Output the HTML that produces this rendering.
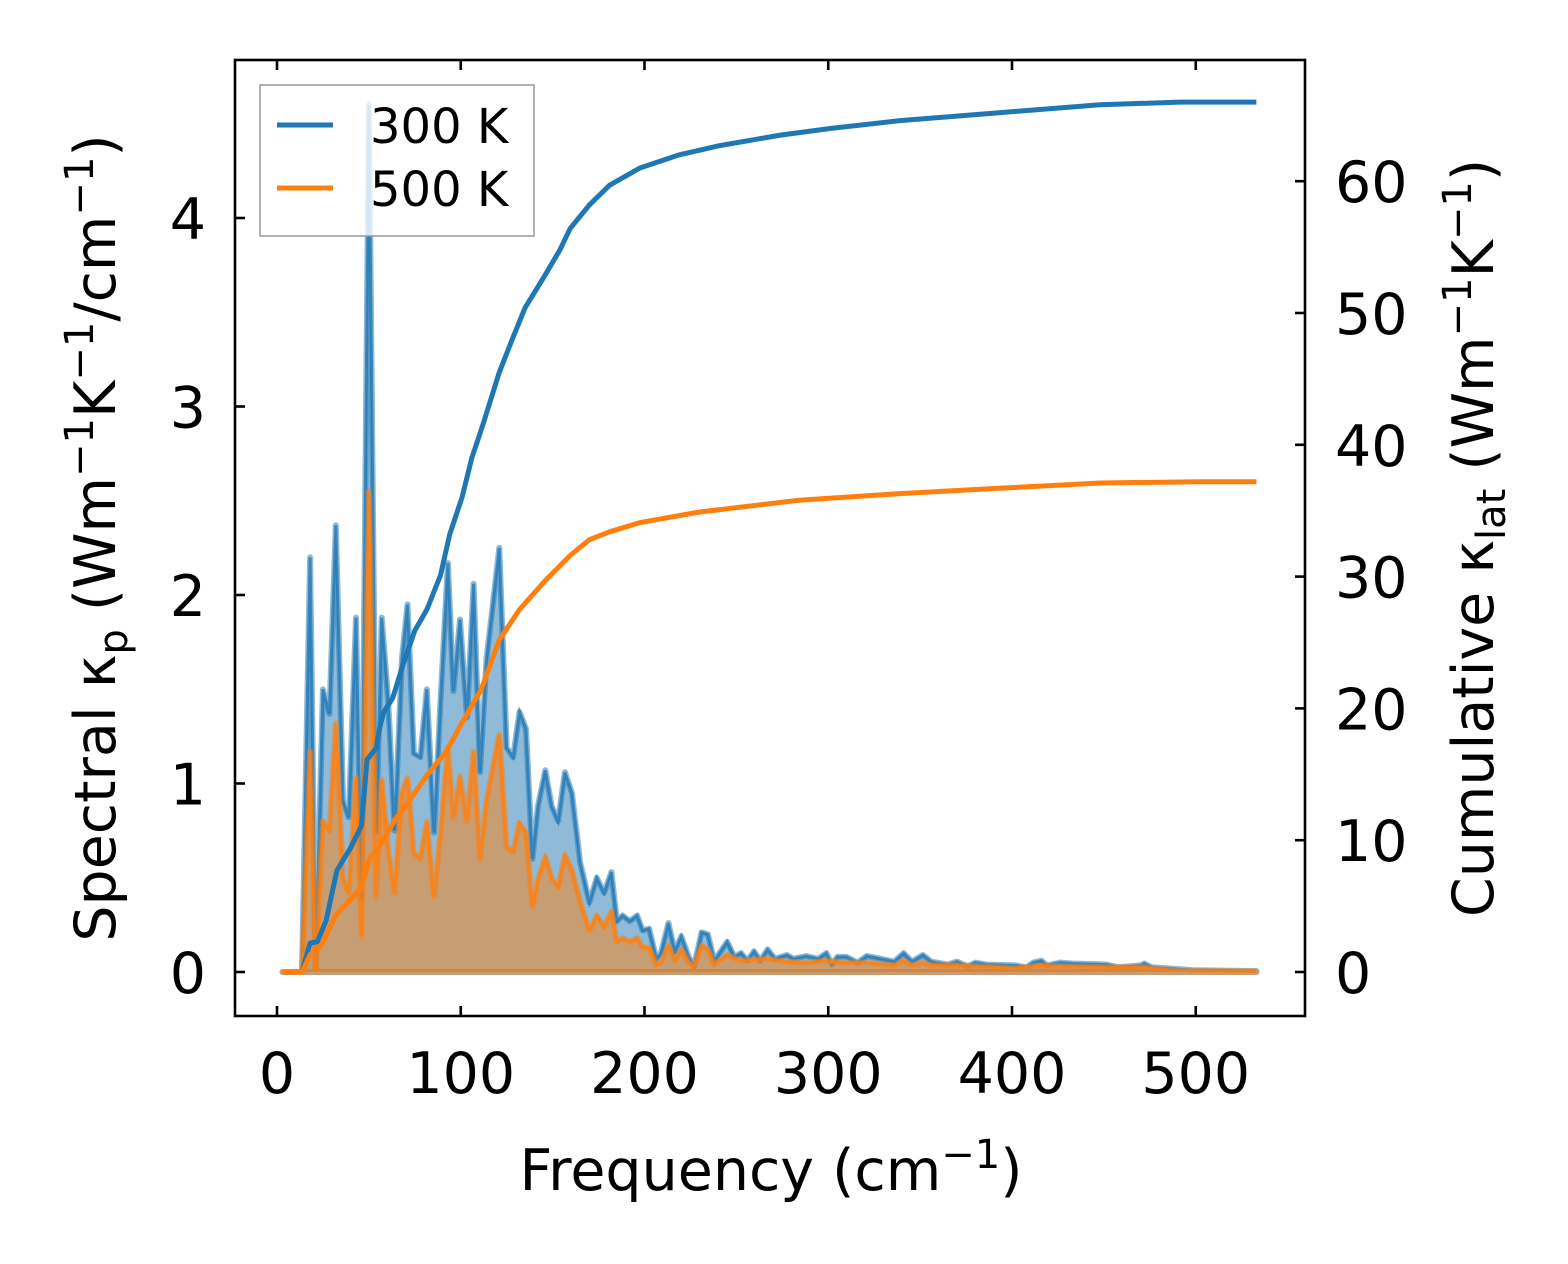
<!DOCTYPE html>
<html><head><meta charset="utf-8"><style>
html,body{margin:0;padding:0;background:#fff;}
svg{display:block;font-family:"DejaVu Sans","Liberation Sans",sans-serif;}
</style></head><body>
<svg id="chart" width="1568" height="1264" viewBox="0 0 1568 1264" xmlns="http://www.w3.org/2000/svg">
<rect x="0" y="0" width="1568" height="1264" fill="#fff"/>
<g id="plot"></g>
<rect x="235" y="60" width="1070" height="956" fill="none" stroke="#000" stroke-width="2.6"/>
<g id="ticks"></g>
<text x="771" y="1190" font-size="57" text-anchor="middle">Frequency (cm<tspan dy="-22" font-size="40">−1</tspan><tspan dy="22">)</tspan></text>
<text transform="translate(115,538) rotate(-90)" font-size="57" text-anchor="middle">Spectral κ<tspan dy="12" font-size="40">p</tspan><tspan dy="-12"> (Wm</tspan><tspan dy="-22" font-size="40">−1</tspan><tspan dy="22">K</tspan><tspan dy="-22" font-size="40">−1</tspan><tspan dy="22">/cm</tspan><tspan dy="-22" font-size="40">−1</tspan><tspan dy="22">)</tspan></text>
<text transform="translate(1493,538) rotate(-90)" font-size="57" text-anchor="middle">Cumulative κ<tspan dy="12" font-size="40">lat</tspan><tspan dy="-12"> (Wm</tspan><tspan dy="-22" font-size="40">−1</tspan><tspan dy="22">K</tspan><tspan dy="-22" font-size="40">−1</tspan><tspan dy="22">)</tspan></text>
<g>
<rect x="260" y="85" width="274" height="151" fill="#fff" fill-opacity="0.8" stroke="#999" stroke-width="1.5"/>
<line x1="277" y1="125" x2="333" y2="125" stroke="#1f77b4" stroke-width="5"/>
<text x="370" y="143" font-size="48">300 K</text>
<line x1="277" y1="188" x2="333" y2="188" stroke="#ff7f0e" stroke-width="5"/>
<text x="370" y="206" font-size="48">500 K</text>
</g>
</svg>
<script>
const freqBlue = [3,13.6,18,21,25,28.5,32,36,39,43,46,50,54,57,60.5,64,68,71,74.5,78,81.5,85.5,89,93,96,99.6,103.4,107,110.5,114,121,125,128.5,132,135.5,139,142,146,149.5,153,156.7,160.5,165,170,174,178,182,185,188,192,196,199,202.5,206.5,209,213,216.5,220,224,227,231,234.5,238,245,249,252.5,256,259.6,263,267,271,277.5,281,288,294.5,299,302,305,310,316,321,336,341,345.5,351.5,356,365,370,376,380,386,402,408,411.5,416,419,426,433,451.5,458,470,472,476,484,498,533];
const kpBlue = [0,0,2.2,0,1.5,1.37,2.37,0.91,0.82,1.88,0.38,4.6,0.74,1.88,1.44,0.75,1.66,1.95,1.16,1.14,1.5,0.74,1.44,2.17,1.49,1.87,1.35,2.06,1.06,1.66,2.25,1.19,1.14,1.38,1.29,0.6,0.88,1.07,0.88,0.8,1.06,0.95,0.58,0.37,0.5,0.42,0.53,0.27,0.3,0.27,0.3,0.22,0.23,0.07,0.1,0.26,0.11,0.19,0.08,0.03,0.21,0.2,0.06,0.16,0.08,0.1,0.06,0.11,0.06,0.12,0.07,0.09,0.07,0.085,0.07,0.1,0.04,0.08,0.08,0.05,0.085,0.055,0.1,0.055,0.09,0.055,0.04,0.055,0.03,0.05,0.04,0.035,0.025,0.05,0.06,0.035,0.05,0.045,0.04,0.025,0.035,0.045,0.025,0.02,0.01,0.005];
const freqOrange = [3,13.6,18,21,25,28.5,32,36,39,43,46,50,54,57,60.5,64,68,71,74.5,78,81.5,85.5,89,93,96,99.6,103.4,107,110.5,114,121,125,128.5,132,135.5,139,142,146,149.5,153,156.7,160.5,165,170,174,178,182,185,188,192,196,199,202.5,206.5,209,213,216.5,220,224,227,231,234.5,238,245,252.5,259.6,267,277.5,288,299,310,321,336,341,345.5,351.5,356,370,380,402,411.5,416,426,451.5,472,484,498,533];
const kpOrange = [0,0,1.17,0,0.8,0.75,1.32,0.5,0.42,1.03,0.19,2.55,0.4,1.02,0.65,0.42,0.95,1.03,0.63,0.6,0.8,0.4,0.74,1.19,0.82,1.04,0.8,1.17,0.6,0.91,1.26,0.66,0.64,0.79,0.74,0.35,0.49,0.61,0.5,0.45,0.62,0.54,0.37,0.22,0.3,0.24,0.32,0.16,0.18,0.16,0.18,0.13,0.13,0.04,0.05,0.14,0.06,0.12,0.05,0.03,0.14,0.12,0.04,0.09,0.06,0.065,0.07,0.055,0.05,0.06,0.05,0.05,0.035,0.06,0.035,0.05,0.035,0.035,0.03,0.02,0.03,0.035,0.03,0.025,0.025,0.012,0.006,0.003];
const cumFreqBlue = [3,13.6,18,22,26.7,32.6,40,46,49,54,56,58,63,68.5,75,81.6,89,94,100.7,106,112,121,128,135,146,154,159.5,170,181,197.5,219,241,274,301,339,393,448,491,533];
const cumBlue = [0,0,2.2,2.3,3.9,7.7,9.4,11.1,16.1,17,18.6,19.7,20.8,23.3,25.9,27.5,30.1,33.2,36,39,41.5,45.5,48,50.4,52.9,54.8,56.4,58.2,59.7,61,62,62.7,63.5,64,64.6,65.2,65.8,66,66];
const cumFreqOrange = [3,13.6,18,24,32,40,46,50,56,64,72,82,92,101,111,121,132,146,159.5,170,181,197.5,230,284,339,393,448,502,533];
const cumOrange = [0,0,1.3,2,4.3,5.5,6.4,8.5,9.6,11.5,13,15,16.7,19,21.4,25.2,27.5,29.7,31.6,32.8,33.4,34.1,34.9,35.8,36.3,36.7,37.1,37.2,37.2];
const xTicks = [0,100,200,300,400,500];
const yLeftTicks = [0,1,2,3,4];
const yRightTicks = [0,10,20,30,40,50,60];

const NS = "http://www.w3.org/2000/svg";
const xS = f => 277 + f * 1.8375;
const yL = v => 972 - v * 188.5;
const yR = v => 972 - v * 13.18;
const plot = document.getElementById('plot');
const ticks = document.getElementById('ticks');
function mk(tag, attrs, parent) {
  const el = document.createElementNS(NS, tag);
  for (const k in attrs) el.setAttribute(k, attrs[k]);
  parent.appendChild(el);
  return el;
}
function linePts(fs, vs, ys) { return fs.map((f, i) => xS(f).toFixed(1) + ',' + ys(vs[i]).toFixed(1)).join(' '); }
function areaPts(fs, vs) {
  return xS(fs[0]).toFixed(1) + ',' + yL(0) + ' ' + linePts(fs, vs, yL) + ' ' + xS(fs[fs.length - 1]).toFixed(1) + ',' + yL(0);
}
const fb = mk('polygon', {points: areaPts(freqBlue, kpBlue), fill: '#1f77b4', 'fill-opacity': 0.5, stroke: '#1f77b4', 'stroke-opacity': 0.5, 'stroke-width': 6, 'stroke-linejoin': 'round'}, plot);


const lb = mk('polyline', {points: linePts(freqBlue, kpBlue, yL), fill: 'none', stroke: '#1f77b4', 'stroke-opacity': 0.75, 'stroke-width': 3}, plot);


const fo = mk('polygon', {points: areaPts(freqOrange, kpOrange), fill: '#ff7f0e', 'fill-opacity': 0.5, stroke: '#ff7f0e', 'stroke-opacity': 0.5, 'stroke-width': 6, 'stroke-linejoin': 'round'}, plot);


const lo = mk('polyline', {points: linePts(freqOrange, kpOrange, yL), fill: 'none', stroke: '#ff7f0e', 'stroke-opacity': 0.75, 'stroke-width': 3}, plot);


const cb = mk('polyline', {points: linePts(cumFreqBlue, cumBlue, yR), fill: 'none', stroke: '#1f77b4', 'stroke-width': 5, 'stroke-linejoin': 'round'}, plot);


const co = mk('polyline', {points: linePts(cumFreqOrange, cumOrange, yR), fill: 'none', stroke: '#ff7f0e', 'stroke-width': 5, 'stroke-linejoin': 'round'}, plot);


xTicks.forEach(t => {
  const x = xS(t);
  const a = mk('line', {x1: x, y1: 1016, x2: x, y2: 1006, stroke: '#000', 'stroke-width': 2.6}, ticks);
  
  
  const b = mk('line', {x1: x, y1: 60, x2: x, y2: 70, stroke: '#000', 'stroke-width': 2.6}, ticks);
  
  
  const tx = mk('text', {x: x, y: 1093, 'font-size': 57, 'text-anchor': 'middle'}, ticks);
  tx.textContent = t;
  
  
});
yLeftTicks.forEach(t => {
  const y = yL(t);
  const a = mk('line', {x1: 235, y1: y, x2: 245, y2: y, stroke: '#000', 'stroke-width': 2.6}, ticks);
  
  
  const tx = mk('text', {x: 206, y: y + 21, 'font-size': 57, 'text-anchor': 'end'}, ticks);
  tx.textContent = t;
  
  
});
yRightTicks.forEach(t => {
  const y = yR(t);
  const a = mk('line', {x1: 1305, y1: y, x2: 1295, y2: y, stroke: '#000', 'stroke-width': 2.6}, ticks);
  
  
  const tx = mk('text', {x: 1335, y: y + 21, 'font-size': 57, 'text-anchor': 'start'}, ticks);
  tx.textContent = t;
  
  
});
</script>
</body></html>
